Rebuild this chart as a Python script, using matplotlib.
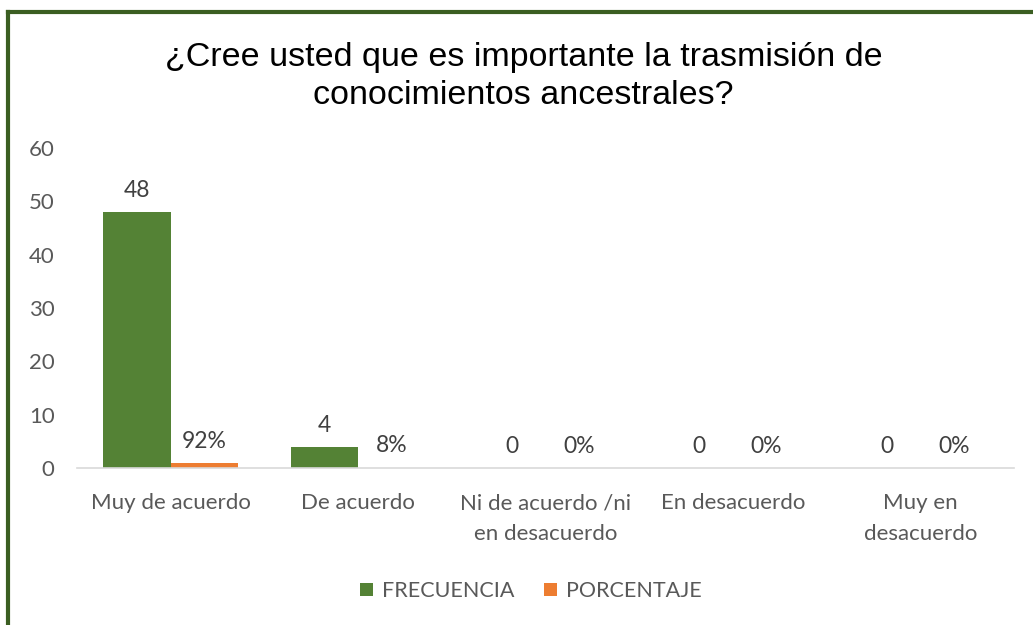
import numpy as np
import matplotlib.pyplot as plt
from matplotlib.lines import Line2D

# Data
categorias = ['Muy de acuerdo', 'De acuerdo', 'Ni de acuerdo /ni\nen desacuerdo',
              'En desacuerdo', 'Muy en\ndesacuerdo']
frecuencia = [48, 4, 0, 0, 0]
porcentaje = [0.92, 0.08, 0.0, 0.0, 0.0]

verde = '#548235'
naranja = '#ED7D31'
gris = '#595959'

plt.rcParams['font.family'] = ['Lato', 'DejaVu Sans']

fig = plt.figure(figsize=(10.33, 6.25), dpi=100)
ax = fig.add_axes([0.0745, 0.2512, 0.907, 0.512])

x = np.arange(len(categorias))
w = 0.36
b1 = ax.bar(x - w / 2, frecuencia, w, color=verde, label='FRECUENCIA')
b2 = ax.bar(x + w / 2, porcentaje, w, color=naranja, label='PORCENTAJE')

# Data labels
for rect, v in zip(b1, frecuencia):
    ax.annotate(f'{v}', (rect.get_x() + rect.get_width() / 2, rect.get_height()),
                xytext=(0, 8), textcoords='offset points', ha='center', va='bottom',
                fontsize=16.5, color='#404040')
for rect, v in zip(b2, porcentaje):
    ax.annotate(f'{v:.0%}', (rect.get_x() + rect.get_width() / 2, rect.get_height()),
                xytext=(0, 8), textcoords='offset points', ha='center', va='bottom',
                fontsize=16.5, color='#404040')

ax.set_xlim(-0.5, len(categorias) - 0.5)
ax.set_ylim(0, 60)
ax.set_yticks(range(0, 61, 10))
ax.set_xticks(x)
ax.set_xticklabels(categorias, linespacing=1.7)
ax.tick_params(axis='y', length=0, pad=16, labelsize=16, labelcolor=gris)
ax.tick_params(axis='x', length=0, pad=18, labelsize=16, labelcolor=gris)
for s in ['top', 'right', 'left']:
    ax.spines[s].set_visible(False)
ax.spines['bottom'].set_color('#d9d9d9')
ax.spines['bottom'].set_linewidth(1.2)

fig.text(0.507, 0.878, '¿Cree usted que es importante la trasmisión de\nconocimientos ancestrales?',
         ha='center', va='center', fontsize=24.5, color='black',
         family=['Liberation Sans', 'DejaVu Sans'], linespacing=1.3)

fig.legend(loc='center', bbox_to_anchor=(0.514, 0.054), ncol=2, frameon=False,
           fontsize=15.5, labelcolor=gris, handlelength=0.6, handleheight=0.6,
           handletextpad=0.4, columnspacing=1.4)

# Dark green frame (top and left edges)
fig.add_artist(Line2D([0.0078, 1.0], [0.981, 0.981], transform=fig.transFigure,
                      color='#3B5E22', lw=3))
fig.add_artist(Line2D([0.0078, 0.0078], [0.0, 0.981], transform=fig.transFigure,
                      color='#3B5E22', lw=3))

fig.savefig('out.png', dpi=100, facecolor='white')
